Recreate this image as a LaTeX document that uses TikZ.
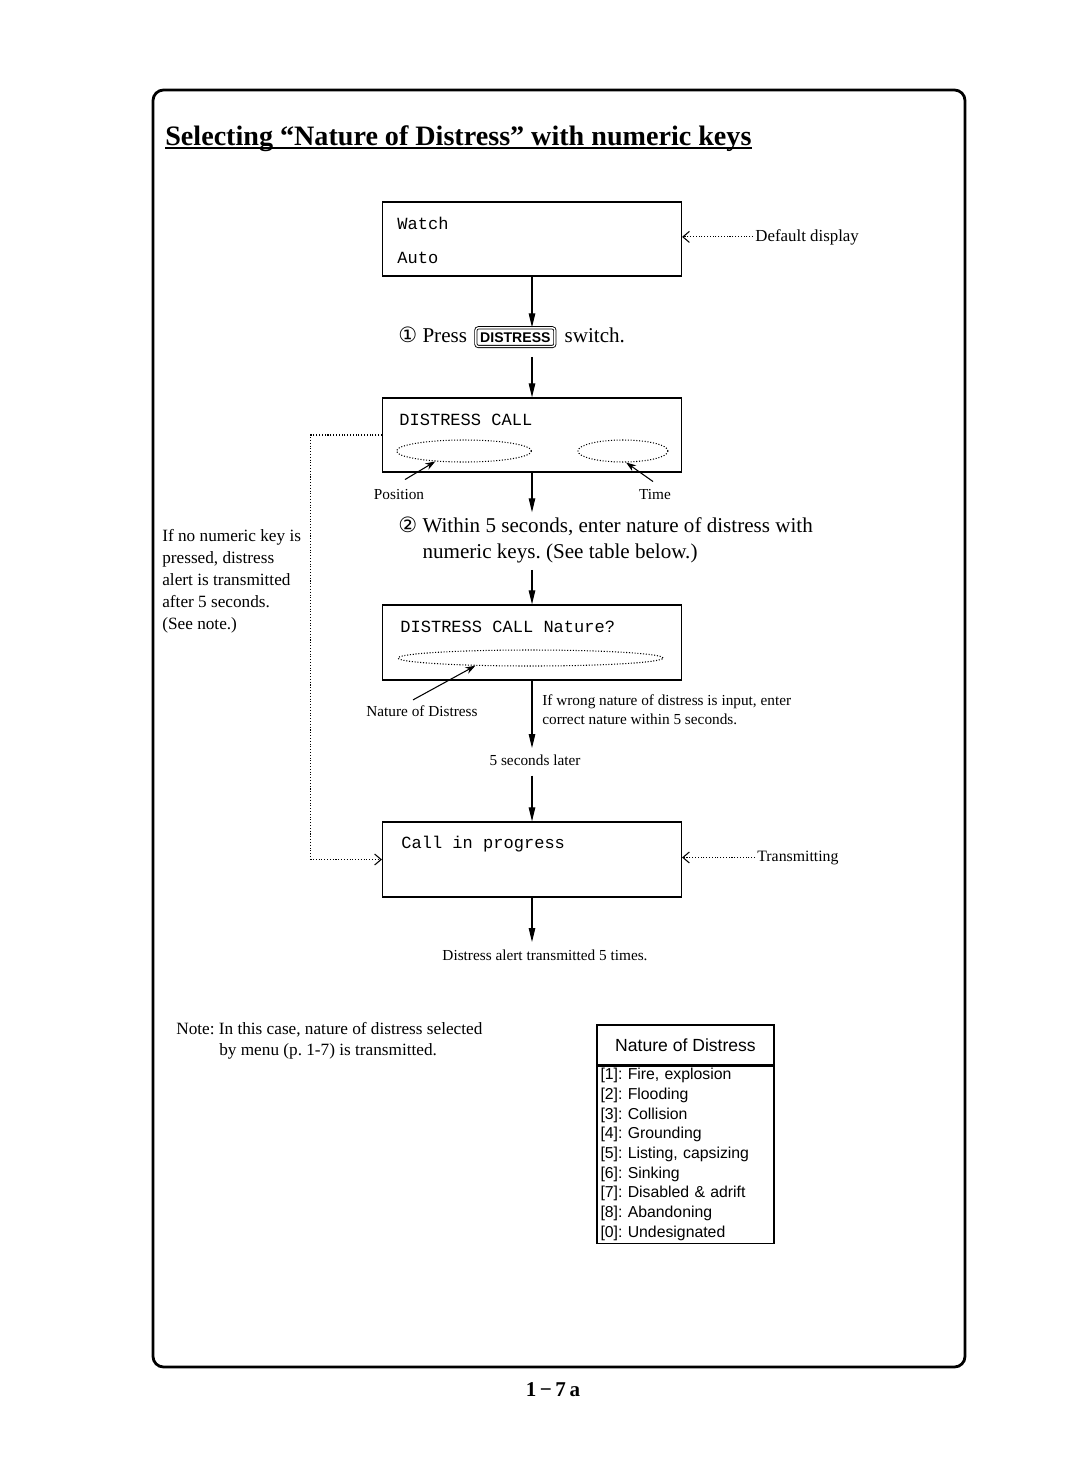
\documentclass[tikz,border=0pt]{standalone}
\usepackage{fontspec}
\setmainfont{Liberation Serif}
\setsansfont{Liberation Sans}
\setmonofont{Liberation Mono}
\newfontfamily\symfont{DejaVu Sans}
\frenchspacing
\usetikzlibrary{calc,arrows.meta,positioning,shapes.geometric}

\begin{document}
\begin{tikzpicture}[x=0.02cm,y=-0.02cm,>=Stealth,inner sep=0pt]
      % Styles
      \tikzset{disp/.style={draw,line width=0.7pt,minimum width=5.98cm,minimum height=1.48cm},
               mono/.style={font=\ttfamily\fontsize{9.7}{11}\selectfont,anchor=base west},
               steptext/.style={font=\fontsize{12}{14.7}\selectfont,anchor=base west,align=left},
               small/.style={font=\fontsize{8.7}{10.5}\selectfont},
               flow/.style={-{Triangle[length=2.8mm,width=1.3mm]},line width=0.6pt},
               hint/.style={densely dotted,line width=0.6pt,-{Straight Barb[length=1.3mm,width=2.2mm]}},
               field/.style={draw,densely dotted,line width=0.6pt,ellipse},
               pointer/.style={-{Stealth[length=2mm,width=1.4mm]},line width=0.6pt}}
      \useasboundingbox (0,0) rectangle (1080,1461);

      % page frame and title
      \draw[line width=1.6pt,rounded corners=6pt] (153,90) rectangle (965,1367);
      \node[font=\bfseries\fontsize{16}{19}\selectfont,anchor=base west] (title) at (165,145)
        {Selecting “Nature of Distress” with numeric keys};
      \draw[line width=0.9pt] ($(title.base west)+(0,3)$) -- ($(title.base east)+(0,3)$);

      % default display
      \node[disp] (watch) at (532,239) {};
      \node[mono] (watchtxt) at (397,229) {Watch};
      \node[mono] (autotxt) at (397,263) {Auto};
      \node[small,font=\fontsize{9.6}{11}\selectfont,anchor=base west] (deflbl) at (755,241) {Default display};
      \draw[hint] ($(deflbl.west)+(-2,0)$) -- (deflbl.west -| watch.east);

      % step 1
      \node[steptext] (presstxt) at (398,342) {{\symfont ①} Press};
      \node[draw,double,double distance=0.8pt,line width=0.5pt,rounded corners=1.5pt,
            inner xsep=2.5pt,inner ysep=2.5pt,font=\sffamily\bfseries\fontsize{8}{9}\selectfont,
            right=0.16cm of presstxt.base east,anchor=base west] (distkey) {DISTRESS};
      \node[steptext,right=0.18cm of distkey.base east,anchor=base west] (switchtxt) {switch.};
      \draw[flow] (watch.south) -- (watch.south |- distkey.north);

      % distress call display
      \node[disp] (dcall) at (532,435) {};
      \node[mono] (dcalltxt) at (399,425) {DISTRESS CALL};
      \node[field,minimum width=2.7cm,minimum height=0.44cm] (posfield) at (464,451) {};
      \node[field,minimum width=1.8cm,minimum height=0.44cm] (timefield) at (623,451) {};
      \draw[flow] (watch.south |- distkey.south) ++(0,10) -- (dcall.north);
      \node[small,anchor=base] (poslbl) at (399,499) {Position};
      \node[small,anchor=base] (timelbl) at (655,499) {Time};
      \draw[pointer] ($(poslbl.north)+(6,-9)$) -- (posfield.200);
      \draw[pointer] ($(timelbl.north)+(-2,-7)$) -- (timefield.-75);

      % step 2
      \node[steptext] (steptwo) at (398,558)
        {{\symfont ②} Within 5 seconds, enter nature of distress with\\
         \phantom{{\symfont ②} }numeric keys. (See table below.)};
      \draw[flow] (dcall.south) -- ($(dcall.south |- steptwo.north)+(0,-4)$);

      % nature display
      \node[disp,minimum height=1.5cm] (nature) at (532,642.5) {};
      \node[mono] (naturetxt) at (400,632) {DISTRESS CALL Nature?};
      \node[field,minimum width=5.3cm,minimum height=0.32cm] (natfield) at (530.5,658) {};
      \draw[flow] (dcall.south |- steptwo.south) ++(0,7) -- (nature.north);
      \node[small,anchor=base] (natlbl) at (422,716) {Nature of Distress};
      \draw[pointer] ($(natlbl.north)+(-9,-5)$) -- (natfield.188);
      \node[small,anchor=base west,align=left] (wronglbl) at (542,724)
        {If wrong nature of distress is input, enter\\correct nature within 5 seconds.};

      % five seconds later
      \node[small,anchor=base] (laterlbl) at (535,765) {5 seconds later};
      \draw[flow] (nature.south) -- ($(nature.south |- laterlbl.north)+(0,-6)$);

      % call in progress
      \node[disp,minimum height=1.5cm] (cip) at (532,859.5) {};
      \node[mono] (ciptxt) at (401,848) {Call in progress};
      \draw[flow] (nature.south |- laterlbl.south) ++(0,10) -- (cip.north);
      \node[small,font=\fontsize{9}{11}\selectfont,anchor=base west] (txlbl) at (757,861) {Transmitting};
      \draw[hint] ($(txlbl.west)+(-2,0)$) -- (txlbl.west -| cip.east);
      \node[small,anchor=base] (donelbl) at (545,960) {Distress alert transmitted 5 times.};
      \draw[flow] (cip.south) -- ($(cip.south |- donelbl.north)+(0,-7)$);

      % no key pressed
      \node[font=\fontsize{9.8}{12.5}\selectfont,anchor=base west,align=left] (nokey) at (162,629)
        {If no numeric key is\\pressed, distress\\alert is transmitted\\after 5 seconds.\\(See note.)};
      \draw[hint] (dcall.west) -- ++(-71,0) |- (cip.west);

      % note
      \node[font=\fontsize{9.8}{11.5}\selectfont,anchor=base west,align=left] (note) at (176,1055)
        {Note: In this case, nature of distress selected\\
         \hspace*{0.86cm}by menu (p. 1-7) is transmitted.};

      % table of natures
      \node[draw,line width=0.6pt,minimum width=3.54cm,minimum height=0.8cm,
            font=\sffamily\fontsize{10}{12}\selectfont] (ndhead) at (685.5,1045) {Nature of Distress};
      \node[draw,line width=0.6pt,below=0pt of ndhead,minimum width=3.54cm,minimum height=3.54cm,
            text width=3.4cm,align=left,font=\sffamily\fontsize{9}{11.2}\selectfont] (ndlist)
        {{[1]}: Fire, explosion\\{[2]}: Flooding\\{[3]}: Collision\\{[4]}: Grounding\\
         {[5]}: Listing, capsizing\\{[6]}: Sinking\\{[7]}: Disabled \& adrift\\{[8]}: Abandoning\\
         {[0]}: Undesignated};

      % page number
      \node[font=\bfseries\fontsize{12}{14}\selectfont,anchor=base] (pageno) at (553,1396) {1\,−\,7\,a};
    \end{tikzpicture}
\end{document}
